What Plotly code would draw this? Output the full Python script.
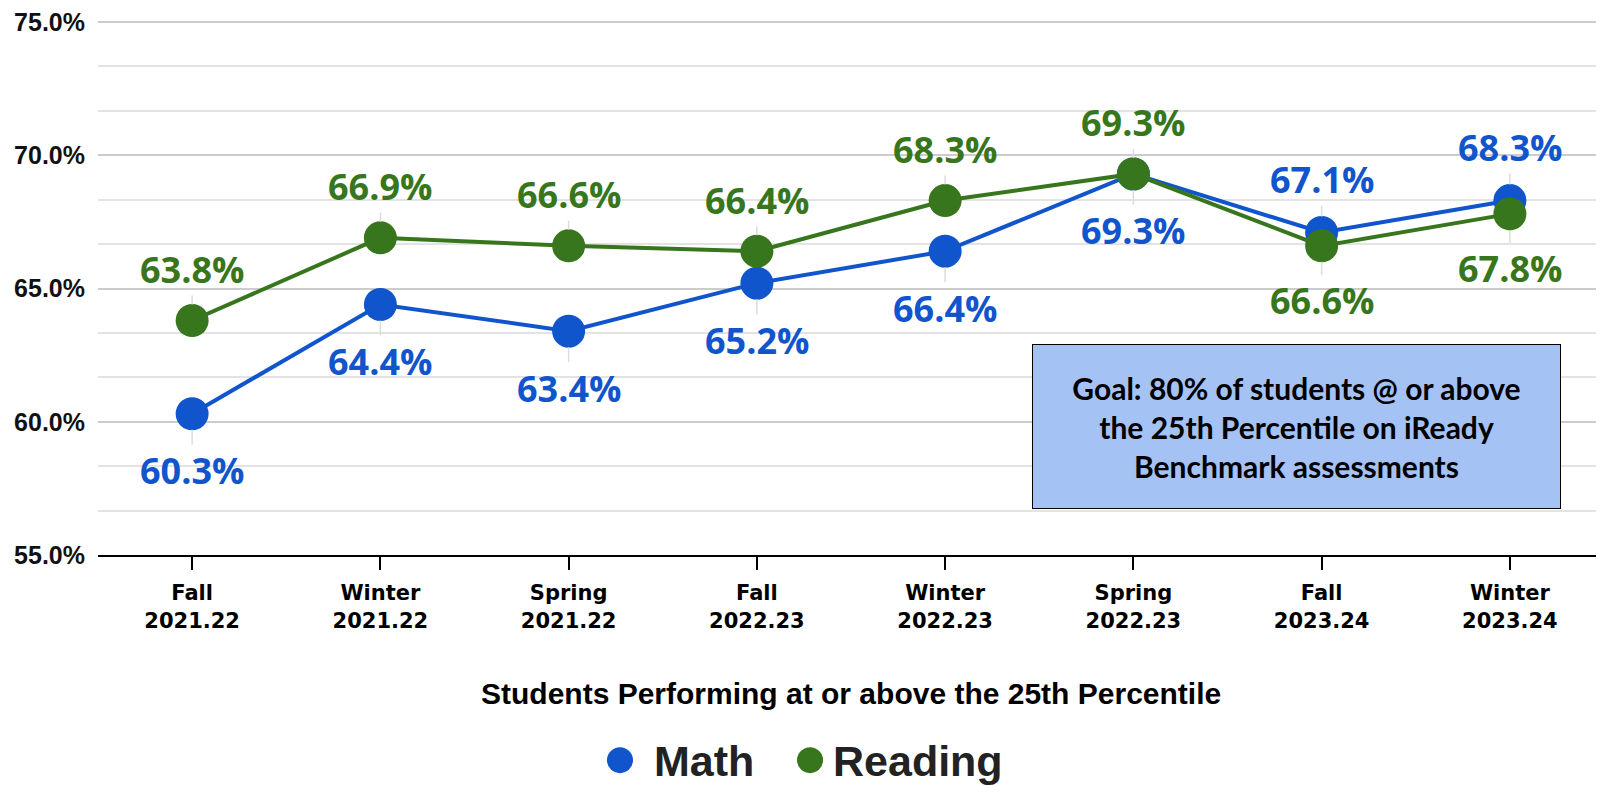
import plotly.graph_objects as go

terms = ["Fall<br>2021.22", "Winter<br>2021.22", "Spring<br>2021.22", "Fall<br>2022.23",
         "Winter<br>2022.23", "Spring<br>2022.23", "Fall<br>2023.24", "Winter<br>2023.24"]
math = [60.3, 64.4, 63.4, 65.2, 66.4, 69.3, 67.1, 68.3]
reading = [63.8, 66.9, 66.6, 66.4, 68.3, 69.3, 66.6, 67.8]
series_names = ["Math", "Reading"]

BLUE = "#1155cc"
GREEN = "#38761d"

fig = go.Figure()
fig.add_trace(go.Scatter(x=terms, y=math, name="Math", mode="lines+markers",
                         line=dict(color=BLUE, width=4), marker=dict(size=33, color=BLUE)))
fig.add_trace(go.Scatter(x=terms, y=reading, name="Reading", mode="lines+markers",
                         line=dict(color=GREEN, width=4), marker=dict(size=33, color=GREEN)))

# data labels with the faint leader line down/up to the point
label_font = dict(family="Open Sans", size=36)
for t, m, r in zip(terms, math, reading):
    for val, other, color, up, down in [(m, r, BLUE, 53, 57), (r, m, GREEN, 51, 55)]:
        above = val > other if color == BLUE else val >= other
        fig.add_annotation(x=t, y=val, text=f"<b>{val:.1f}%</b>", showarrow=True,
                           ax=0, ay=-up if above else down, arrowhead=0, arrowwidth=1.5,
                           arrowcolor="#dcdcdc", standoff=16,
                           font=dict(color=color, **label_font))

# goal box
fig.add_annotation(xref="paper", yref="paper", x=0.796, y=0.240, xanchor="center", yanchor="middle",
                   text="<b>Goal: 80% of students @ or above<br>the 25th Percentile on iReady<br>Benchmark assessments</b>",
                   showarrow=False, width=525, height=161, bgcolor="#a4c2f4",
                   bordercolor="#000000", borderwidth=1,
                   font=dict(family="Lato", size=30, color="#000000"))

# axis title
fig.add_annotation(xref="paper", yref="paper", x=0.5, y=-0.258, xanchor="center", yanchor="middle",
                   text="<b>Students Performing at or above the 25th Percentile</b>",
                   showarrow=False, font=dict(family="Liberation Sans", size=30, color="#000000"))

# legend (drawn by hand so the dots can be as large as in the original)
legend_x = [(0.3466, 0.3679), (0.4728, 0.4867)]
for name, color, (cx, tx) in zip(series_names, [BLUE, GREEN], legend_x):
    fig.add_shape(type="circle", xref="paper", yref="paper", xsizemode="pixel", ysizemode="pixel",
                  xanchor=cx, yanchor=-0.382, x0=-13, x1=13, y0=-13, y1=13,
                  fillcolor=color, line=dict(width=0))
    fig.add_annotation(xref="paper", yref="paper", x=tx, y=-0.383, xanchor="left", yanchor="middle",
                       text=f"<b>{name}</b>", showarrow=False,
                       font=dict(family="Liberation Sans", size=43, color="#222222"))

fig.update_layout(
    width=1596, height=778,
    margin=dict(l=90, r=0, t=8, b=231),
    plot_bgcolor="white", paper_bgcolor="white",
    showlegend=False,
    xaxis=dict(range=[-0.5, 7.5], showgrid=False, showline=True, linecolor="black", linewidth=2,
               ticks="outside", ticklen=13, tickwidth=2, tickcolor="black",
               tickfont=dict(family="DejaVu Sans", size=21, color="#000000"),
               ticklabelstandoff=5),
    xaxis2=dict(overlaying="x", matches="x", side="bottom", showgrid=False, showline=False,
                ticks="inside", ticklen=12, tickwidth=2, tickcolor="black",
                showticklabels=False),
    yaxis=dict(range=[55, 75.15], dtick=5, tickformat=".1f", ticksuffix="%",
               showgrid=True, gridcolor="#cccccc", gridwidth=2, zeroline=False,
               minor=dict(dtick=5 / 3, showgrid=True, gridcolor="#e3e3e3", gridwidth=2),
               tickfont=dict(family="Liberation Sans", size=25, color="#111111"),
               ticklabelstandoff=12, ticklabeloverflow="allow"),
)
fig.update_xaxes(tickfont_weight="bold")
fig.update_yaxes(tickfont_weight="bold")

fig.write_html("out.html")
